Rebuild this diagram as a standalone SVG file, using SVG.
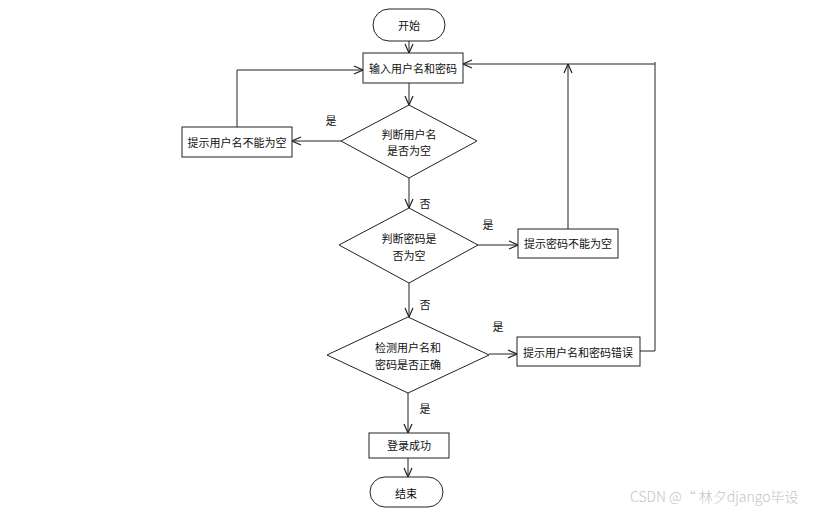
<svg xmlns="http://www.w3.org/2000/svg" width="822" height="514" viewBox="0 0 822 514">
<defs>
<marker id="arr" viewBox="0 0 10 10" refX="10" refY="5" markerWidth="10" markerHeight="10" markerUnits="userSpaceOnUse" orient="auto">
<path d="M1,1 L10,5 L1,9" fill="none" stroke="#222" stroke-width="1.2"/>
</marker>
<style>
.s{fill:#fff;stroke:#222;stroke-width:1}
.t{font-family:"Noto Sans CJK SC","Noto Sans",sans-serif;font-size:11px;fill:#111;text-anchor:middle;dominant-baseline:central}
.l{font-family:"Noto Sans CJK SC","Noto Sans",sans-serif;font-size:11px;fill:#111;text-anchor:middle;dominant-baseline:central}
.c{fill:none;stroke:#222;stroke-width:1}
</style>
</defs>
<rect width="822" height="514" fill="#fff"/>
<g id="connectors">
<path class="c" d="M409,41 V53" marker-end="url(#arr)"/>
<path class="c" d="M409,83 V105" marker-end="url(#arr)"/>
<path class="c" d="M341,141 H292" marker-end="url(#arr)"/>
<path class="c" d="M237,127 V70 H363" marker-end="url(#arr)"/>
<path class="c" d="M409,178 V208" marker-end="url(#arr)"/>
<path class="c" d="M478,245 H518" marker-end="url(#arr)"/>
<path class="c" d="M568,229 V64" marker-end="url(#arr)"/>
<path class="c" d="M409,283 V317" marker-end="url(#arr)"/>
<path class="c" d="M489,354 H517" marker-end="url(#arr)"/>
<path class="c" d="M640,351 H655 V62" stroke-width="2"/>
<path class="c" d="M655,64 H463" stroke-width="1.5" marker-end="url(#arr)"/>
<path class="c" d="M408,393 V433" marker-end="url(#arr)"/>
<path class="c" d="M408,458 V477" marker-end="url(#arr)"/>
<text class="l" x="331" y="120">是</text>
<text class="l" x="425" y="203">否</text>
<text class="l" x="488" y="224">是</text>
<text class="l" x="425" y="304">否</text>
<text class="l" x="498" y="326">是</text>
<text class="l" x="425" y="408">是</text>
</g>
<g id="start">
<rect class="s" x="373" y="9" width="72" height="32" rx="16"/>
<text class="t" x="409" y="25">开始</text>
</g>
<g id="input">
<rect class="s" x="363" y="53" width="100" height="30"/>
<text class="t" x="413" y="68">输入用户名和密码</text>
</g>
<g id="check-user">
<polygon class="s" points="409,105 477,141 409,178 341,141"/>
<text class="t" x="409" y="134">判断用户名</text>
<text class="t" x="409" y="150">是否为空</text>
</g>
<g id="user-empty">
<rect class="s" x="182" y="127" width="110" height="30"/>
<text class="t" x="237" y="142">提示用户名不能为空</text>
</g>
<g id="check-pass">
<polygon class="s" points="409,208 478,245 409,283 339,245"/>
<text class="t" x="409" y="238">判断密码是</text>
<text class="t" x="409" y="255">否为空</text>
</g>
<g id="pass-empty">
<rect class="s" x="518" y="229" width="100" height="29"/>
<text class="t" x="568" y="243">提示密码不能为空</text>
</g>
<g id="check-both">
<polygon class="s" points="408,317 489,355 408,393 327,355"/>
<text class="t" x="408" y="347">检测用户名和</text>
<text class="t" x="408" y="364">密码是否正确</text>
</g>
<g id="wrong">
<rect class="s" x="517" y="337" width="123" height="29"/>
<text class="t" x="578" y="352">提示用户名和密码错误</text>
</g>
<g id="success">
<rect class="s" x="369" y="433" width="80" height="25"/>
<text class="t" x="409" y="445">登录成功</text>
</g>
<g id="end">
<rect class="s" x="370" y="477" width="73" height="30" rx="15"/>
<text class="t" x="406" y="493">结束</text>
</g>
<text x="630" y="502" style="font-family:'Noto Sans CJK SC','Noto Sans',sans-serif;font-size:14px;font-weight:300;fill:#c4c4c4">CSDN @“ 林夕django毕设</text>
</svg>
